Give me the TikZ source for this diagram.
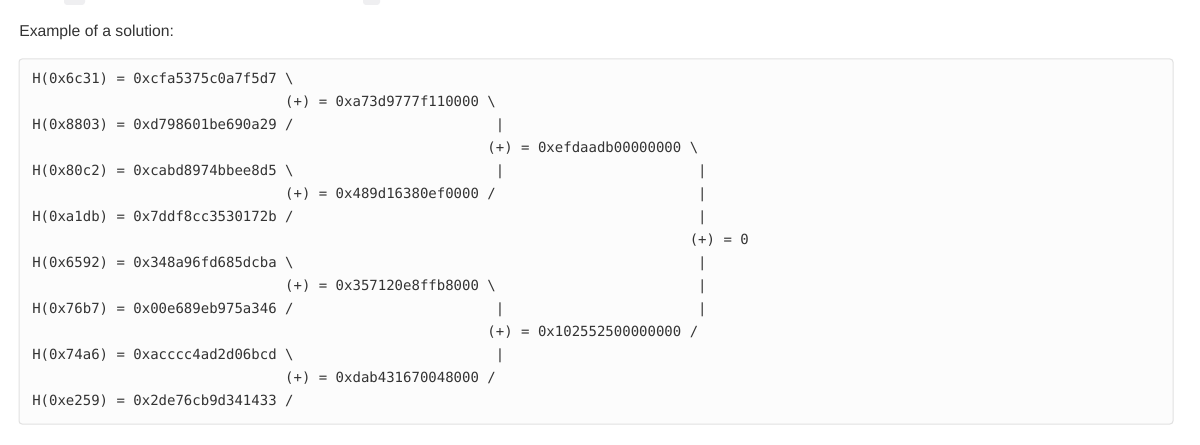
\documentclass[tikz,border=0pt]{standalone}
\usepackage{fontspec}
\setmainfont{Liberation Sans}
\newfontfamily\codefont{DejaVu Sans Mono}
\definecolor{codeink}{HTML}{333333}
\definecolor{boxline}{HTML}{E1E1E1}
\definecolor{boxfill}{HTML}{FCFCFC}
\definecolor{chipfill}{HTML}{EFEFF1}
\tikzset{codetext/.style={anchor=base west, inner sep=0pt, text=codeink, font=\codefont\fontsize{10.5}{12}\selectfont}}
% column/row of the code grid -> position in px
\def\codeat(#1,#2)#3#4{\node[codetext] (#3) at ({32+#1*8.43},{84+(#2-1)*22.93}) {#4};}
\def\bs{\textbackslash}

\begin{document}
\begin{tikzpicture}[x=0.75pt, y=-0.75pt]
			%%%%% START %%%%%
			\clip (0, 0) rectangle (1200, 445);
			\fill[white] (0, 0) rectangle (1200, 445);
			
			% cut-off line above
			\fill[chipfill, rounded corners=2.25pt] (64, -10) rectangle (85, 5);
			\fill[chipfill, rounded corners=2.25pt] (363, -10) rectangle (380, 5);
			
			\node[anchor=west, inner sep=0pt, text=black!80, font=\fontsize{11.8}{14}\selectfont] (title) at (19, 32) {Example of a solution:};
			
			\draw[boxline, fill=boxfill, line width=0.75pt, rounded corners=2.25pt] (19, 59) rectangle (1173, 424);
			
			\codeat(0,1){h1}{H(0x6c31) = 0xcfa5375c0a7f5d7 \bs}
			\codeat(30,2){s1}{(+) = 0xa73d9777f110000 \bs}
			\codeat(0,3){h2}{H(0x8803) = 0xd798601be690a29 /}
			\codeat(55,3){v1}{|}
			\codeat(54,4){t1}{(+) = 0xefdaadb00000000 \bs}
			\codeat(0,5){h3}{H(0x80c2) = 0xcabd8974bbee8d5 \bs}
			\codeat(55,5){v2}{|}
			\codeat(79,5){v3}{|}
			\codeat(30,6){s2}{(+) = 0x489d16380ef0000 /}
			\codeat(79,6){v4}{|}
			\codeat(0,7){h4}{H(0xa1db) = 0x7ddf8cc3530172b /}
			\codeat(79,7){v5}{|}
			\codeat(78,8){root}{(+) = 0}
			
			\codeat(0,9){h5}{H(0x6592) = 0x348a96fd685dcba \bs}
			\codeat(79,9){v6}{|}
			\codeat(30,10){s3}{(+) = 0x357120e8ffb8000 \bs}
			\codeat(79,10){v7}{|}
			\codeat(0,11){h6}{H(0x76b7) = 0x00e689eb975a346 /}
			\codeat(55,11){v8}{|}
			\codeat(79,11){v9}{|}
			\codeat(54,12){t2}{(+) = 0x102552500000000 /}
			\codeat(0,13){h7}{H(0x74a6) = 0xacccc4ad2d06bcd \bs}
			\codeat(55,13){v10}{|}
			\codeat(30,14){s4}{(+) = 0xdab431670048000 /}
			\codeat(0,15){h8}{H(0xe259) = 0x2de76cb9d341433 /}
			
			%%%%% END %%%%%
		\end{tikzpicture}
\end{document}
